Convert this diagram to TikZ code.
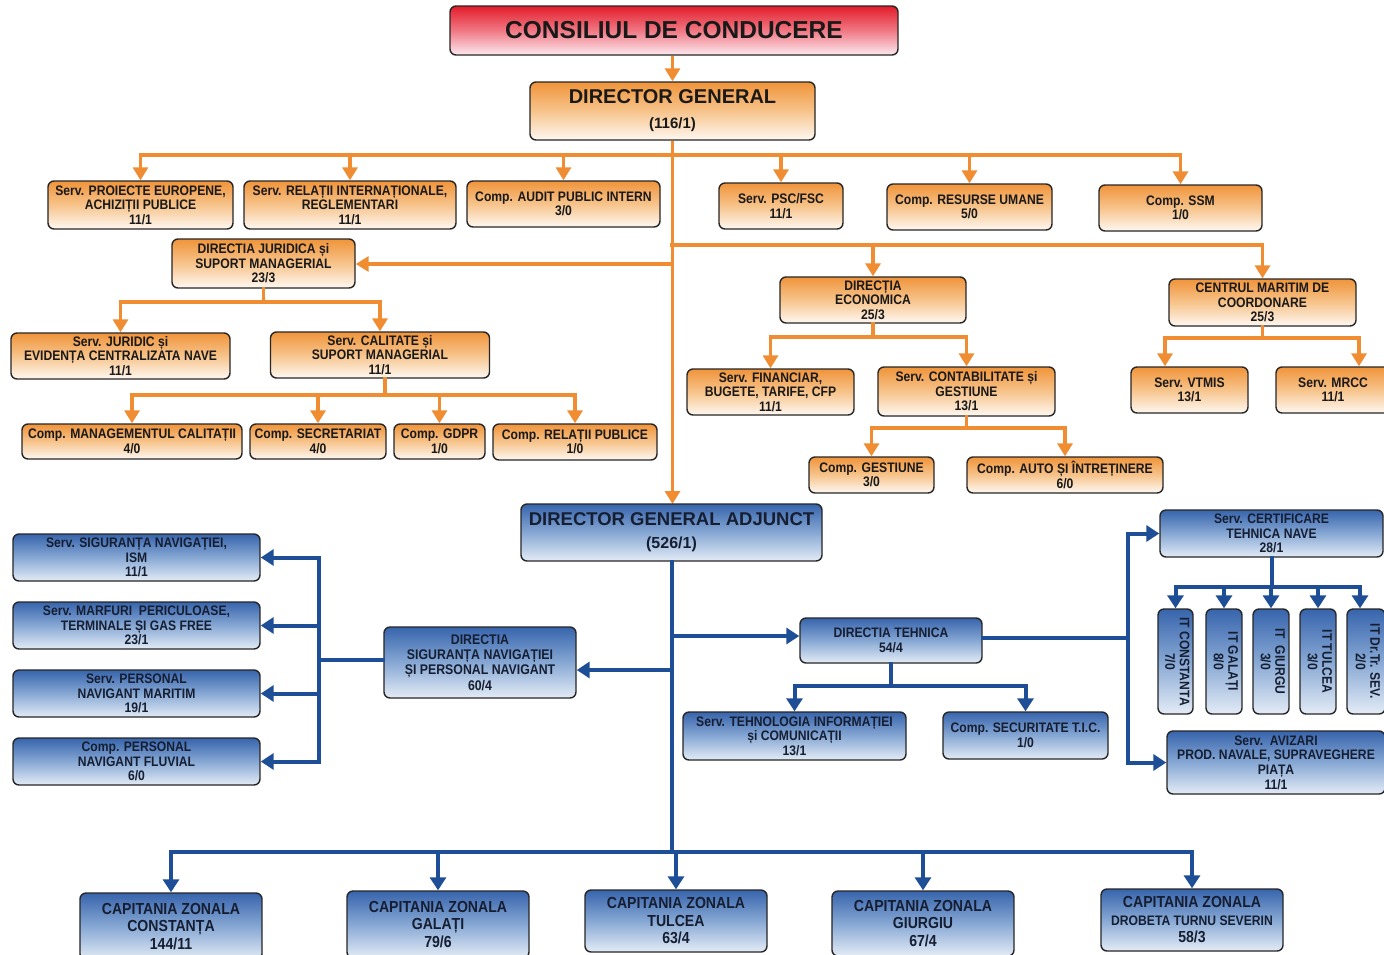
\documentclass[tikz,border=0pt]{standalone}
\usepackage{fontspec}
\usepackage{graphicx}
\setmainfont{Liberation Sans}
\newfontfamily\nf[FakeStretch=0.88]{Liberation Sans}
\usetikzlibrary{arrows.meta}
\definecolor{orT}{RGB}{240,148,58}
\definecolor{orM}{RGB}{247,196,140}
\definecolor{orB}{RGB}{254,248,242}
\definecolor{rdT}{RGB}{228,28,42}
\definecolor{rdM}{RGB}{240,120,132}
\definecolor{rdB}{RGB}{252,234,240}
\definecolor{blT}{RGB}{55,100,172}
\definecolor{blM}{RGB}{135,168,212}
\definecolor{blB}{RGB}{228,236,246}
\definecolor{orL}{RGB}{240,140,50}
\definecolor{blL}{RGB}{30,78,150}
\definecolor{bltext}{RGB}{22,30,50}
\begin{document}
\begin{tikzpicture}[x=1pt,y=-1pt,
  box/.style={draw=black!85, line width=1.4pt, rounded corners=6pt, align=center, inner sep=1pt, text=black!90,
    font=\nf\bfseries\fontsize{13.8}{14.6}\selectfont},
  obox/.style={box, top color=orT, bottom color=orB, middle color=orM},
  rbox/.style={box, top color=rdT, bottom color=rdB, middle color=rdM},
  bbox/.style={box, top color=blT, bottom color=blB, middle color=blM, text=bltext},
  czbox/.style={bbox, font=\nf\bfseries\fontsize{16}{17.5}\selectfont},
  sz/.style 2 args={minimum width=#1, minimum height=#2},
  oline/.style={draw=orL, line width=3.6pt, line cap=rect},
  oarr/.style={draw=orL, line width=3.6pt, -{Triangle[width=15pt,length=13pt]}},
  bline/.style={draw=blL, line width=4pt, line cap=rect},
  barr/.style={draw=blL, line width=4pt, -{Triangle[width=16pt,length=13pt]}},
]
\clip (0,0) rectangle (1384,954);
\fill[white] (0,0) rectangle (1384,954);

% ---------- orange part ----------
\node[rbox, sz={448}{49}, font=\bfseries\fontsize{24.5}{28}\selectfont] (cdc) at (674,30.5) {CONSILIUL DE CONDUCERE};
\node[obox, sz={285}{58}, font=\bfseries\fontsize{20}{25}\selectfont] (dg) at (672.5,111) {DIRECTOR GENERAL\\{\fontsize{15}{19}\selectfont (116/1)}};

\node[obox, sz={185}{48}] (pe) at (140.5,205) {Serv. PROIECTE EUROPENE,\\ACHIZIȚII PUBLICE\\11/1};
\node[obox, sz={212}{48}] (ri) at (350,205) {Serv. RELAȚII INTERNAȚIONALE,\\REGLEMENTARI\\11/1};
\node[obox, sz={193}{46}] (au) at (563.5,204) {Comp. AUDIT PUBLIC INTERN\\3/0};
\node[obox, sz={124}{46}] (psc) at (781,206) {Serv. PSC/FSC\\11/1};
\node[obox, sz={165}{46}] (ru) at (969.5,207) {Comp. RESURSE UMANE\\5/0};
\node[obox, sz={163}{46}] (ssm) at (1180.5,208) {Comp. SSM\\1/0};

\node[obox, sz={183}{49}] (jur) at (263.5,263.5) {DIRECTIA JURIDICA și\\SUPORT MANAGERIAL\\23/3};
\node[obox, sz={219}{46}] (jd) at (120.5,356) {Serv. JURIDIC și\\EVIDENȚA CENTRALIZATA NAVE\\11/1};
\node[obox, sz={219}{46}] (cal) at (380,355) {Serv. CALITATE și\\SUPORT MANAGERIAL\\11/1};
\node[obox, sz={220}{35}] (mc) at (132,441.5) {Comp. MANAGEMENTUL CALITAȚII\\4/0};
\node[obox, sz={136}{35}] (sec) at (318,441.5) {Comp. SECRETARIAT\\4/0};
\node[obox, sz={91}{35}] (gdpr) at (439.5,441.5) {Comp. GDPR\\1/0};
\node[obox, sz={164}{36}] (rp) at (575,442) {Comp. RELAȚII PUBLICE\\1/0};

\node[obox, sz={186}{46}] (ec) at (873,300) {DIRECȚIA\\ECONOMICA\\25/3};
\node[obox, sz={167}{46}] (fin) at (770.5,392) {Serv. FINANCIAR,\\BUGETE, TARIFE, CFP\\11/1};
\node[obox, sz={177}{49}] (cont) at (966.5,391.5) {Serv. CONTABILITATE și\\GESTIUNE\\13/1};
\node[obox, sz={125}{36}] (gest) at (871.5,475) {Comp. GESTIUNE\\3/0};
\node[obox, sz={196}{36}] (auto) at (1065,475) {Comp. AUTO ȘI ÎNTREȚINERE\\6/0};

\node[obox, sz={187}{47}] (cm) at (1262.5,302.5) {CENTRUL MARITIM DE\\COORDONARE\\25/3};
\node[obox, sz={117}{46}] (vt) at (1189.5,390) {Serv. VTMIS\\13/1};
\node[obox, sz={114}{46}] (mr) at (1333,390) {Serv. MRCC\\11/1};

% orange connectors
\draw[oarr] (cdc.south -| dg.north) -- (dg.north);
\draw[oarr] (dg.south) -- (dg.south |- 0,504);
\coordinate (b1) at (672,155);
\draw[oline] (pe.north |- b1) -- (ssm.north |- b1);
\foreach \n in {pe,ri,au,psc,ru,ssm} \draw[oarr] (\n.north |- b1) -- (\n.north);
\coordinate (b2) at (672,245);
\draw[oline] (b2) -- (cm.north |- b2);
\draw[oarr] (ec.north |- b2) -- (ec.north);
\draw[oarr] (cm.north |- b2) -- (cm.north);
\coordinate (b3) at (672,264);
\draw[oarr] (b3) -- (jur.east |- b3);
\coordinate (b4) at (264,302);
\draw[oline] (jur.south) -- (jur.south |- b4);
\draw[oline] (jd.north |- b4) -- (cal.north |- b4);
\draw[oarr] (jd.north |- b4) -- (jd.north);
\draw[oarr] (cal.north |- b4) -- (cal.north);
\coordinate (b5) at (385,395);
\draw[oline] (cal.south -| b5) -- (b5);
\draw[oline] (mc.north |- b5) -- (rp.north |- b5);
\foreach \n in {mc,sec,gdpr,rp} \draw[oarr] (\n.north |- b5) -- (\n.north);
\coordinate (b6) at (873,337);
\draw[oline] (ec.south) -- (ec.south |- b6);
\draw[oline] (fin.north |- b6) -- (cont.north |- b6);
\draw[oarr] (fin.north |- b6) -- (fin.north);
\draw[oarr] (cont.north |- b6) -- (cont.north);
\coordinate (b7) at (967,428);
\draw[oline] (cont.south) -- (cont.south |- b7);
\draw[oline] (gest.north |- b7) -- (auto.north |- b7);
\draw[oarr] (gest.north |- b7) -- (gest.north);
\draw[oarr] (auto.north |- b7) -- (auto.north);
\coordinate (b8) at (1263,338);
\coordinate (xv) at (1165,338);
\coordinate (xm) at (1359,338);
\draw[oline] (cm.south) -- (cm.south |- b8);
\draw[oline] (xv) -- (xm);
\draw[oarr] (xv) -- (xv |- vt.north);
\draw[oarr] (xm) -- (xm |- mr.north);

% ---------- blue part ----------
\node[bbox, sz={301}{57}, font=\bfseries\fontsize{18.5}{23}\selectfont] (dga) at (671.5,532.5) {DIRECTOR GENERAL ADJUNCT\\{\fontsize{16}{20}\selectfont (526/1)}};

\node[bbox, sz={247}{47}] (s1) at (136.5,557.5) {Serv. SIGURANȚA NAVIGAȚIEI,\\ISM\\11/1};
\node[bbox, sz={247}{47}] (s2) at (136.5,625.5) {Serv. MARFURI\ \ PERICULOASE,\\TERMINALE ȘI GAS FREE\\23/1};
\node[bbox, sz={247}{47}] (s3) at (136.5,693.5) {Serv. PERSONAL\\NAVIGANT MARITIM\\19/1};
\node[bbox, sz={247}{47}] (s4) at (136.5,761.5) {Comp. PERSONAL\\NAVIGANT FLUVIAL\\6/0};
\node[bbox, sz={192}{71}, font=\nf\bfseries\fontsize{14}{15.3}\selectfont] (dsn) at (480,662.5) {DIRECTIA\\SIGURANȚA NAVIGAȚIEI\\ȘI PERSONAL NAVIGANT\\60/4};

\node[bbox, sz={182}{45}] (dt) at (891,640.5) {DIRECTIA TEHNICA\\54/4};
\node[bbox, sz={223}{48}] (ti) at (794.5,736) {Serv. TEHNOLOGIA INFORMAȚIEI\\și COMUNICAȚII\\13/1};
\node[bbox, sz={165}{47}] (sc) at (1025.5,735.5) {Comp. SECURITATE T.I.C.\\1/0};

\node[bbox, sz={223}{47}] (cert) at (1271.5,533.5) {Serv. CERTIFICARE\\TEHNICA NAVE\\28/1};
\node[bbox, sz={35}{105}] (it1) at (1175.5,661.5) {\rotatebox{-90}{\begin{tabular}{@{}c@{}}IT CONSTANTA\\7/0\end{tabular}}};
\node[bbox, sz={36}{105}] (it2) at (1224,661.5) {\rotatebox{-90}{\begin{tabular}{@{}c@{}}IT GALAȚI\\8/0\end{tabular}}};
\node[bbox, sz={36}{105}] (it3) at (1271,661.5) {\rotatebox{-90}{\begin{tabular}{@{}c@{}}IT\ \ GIURGU\\3/0\end{tabular}}};
\node[bbox, sz={36}{105}] (it4) at (1318,661.5) {\rotatebox{-90}{\begin{tabular}{@{}c@{}}IT TULCEA\\3/0\end{tabular}}};
\node[bbox, sz={38}{105}] (it5) at (1366,661.5) {\rotatebox{-90}{\begin{tabular}{@{}c@{}}IT Dr.Tr. SEV.\\2/0\end{tabular}}};
\node[bbox, sz={218}{63}] (av) at (1276,762.5) {Serv.\ \ AVIZARI\\PROD. NAVALE, SUPRAVEGHERE\\PIAȚA\\11/1};

\node[czbox, sz={182}{67}] (cz1) at (171,926.5) {CAPITANIA ZONALA\\CONSTANȚA\\144/11};
\node[czbox, sz={182}{67}] (cz2) at (438,924.5) {CAPITANIA ZONALA\\GALAȚI\\79/6};
\node[czbox, sz={182}{62}] (cz3) at (676,921) {CAPITANIA ZONALA\\TULCEA\\63/4};
\node[czbox, sz={182}{65}] (cz4) at (923,923.5) {CAPITANIA ZONALA\\GIURGIU\\67/4};
\node[czbox, sz={182}{62}] (cz5) at (1192,920) {CAPITANIA ZONALA\\{\fontsize{13.8}{17.5}\selectfont DROBETA TURNU SEVERIN}\\58/3};

% blue connectors
\coordinate (bb1) at (672,852);
\draw[bline] (dga.south) -- (dga.south |- bb1);
\draw[bline] (cz1.north |- bb1) -- (cz5.north |- bb1);
\foreach \n in {cz1,cz2,cz3,cz4,cz5} \draw[barr] (\n.north |- bb1) -- (\n.north);

\coordinate (bl) at (672,670);
\draw[barr] (bl) -- (dsn.east |- bl);
\coordinate (lb) at (319,660);
\draw[bline] (dsn.west |- lb) -- (lb);
\draw[bline] (lb |- s1.east) -- (lb |- s4.east);
\foreach \n in {s1,s2,s3,s4} \draw[barr] (lb |- \n.east) -- (\n.east);

\coordinate (br) at (672,636);
\draw[barr] (br) -- (dt.west |- br);
\coordinate (bd) at (892,686);
\draw[bline] (dt.south) -- (dt.south |- bd);
\draw[bline] (ti.north |- bd) -- (sc.north |- bd);
\draw[barr] (ti.north |- bd) -- (ti.north);
\draw[barr] (sc.north |- bd) -- (sc.north);

\coordinate (rb) at (1128,638);
\draw[bline] (dt.east |- rb) -- (rb);
\draw[bline] (rb |- cert.west) -- (rb |- av.west);
\draw[barr] (rb |- cert.west) -- (cert.west);
\draw[barr] (rb |- av.west) -- (av.west);

\coordinate (ib) at (1271,587);
\draw[bline] (cert.south) -- (cert.south |- ib);
\coordinate (ie) at (1360,587);
\draw[bline] (it1.north |- ib) -- (ie);
\foreach \n in {it1,it2,it3,it4} \draw[barr] (\n.north |- ib) -- (\n.north);
\draw[barr] (ie) -- (ie |- it5.north);
\end{tikzpicture}
\end{document}
